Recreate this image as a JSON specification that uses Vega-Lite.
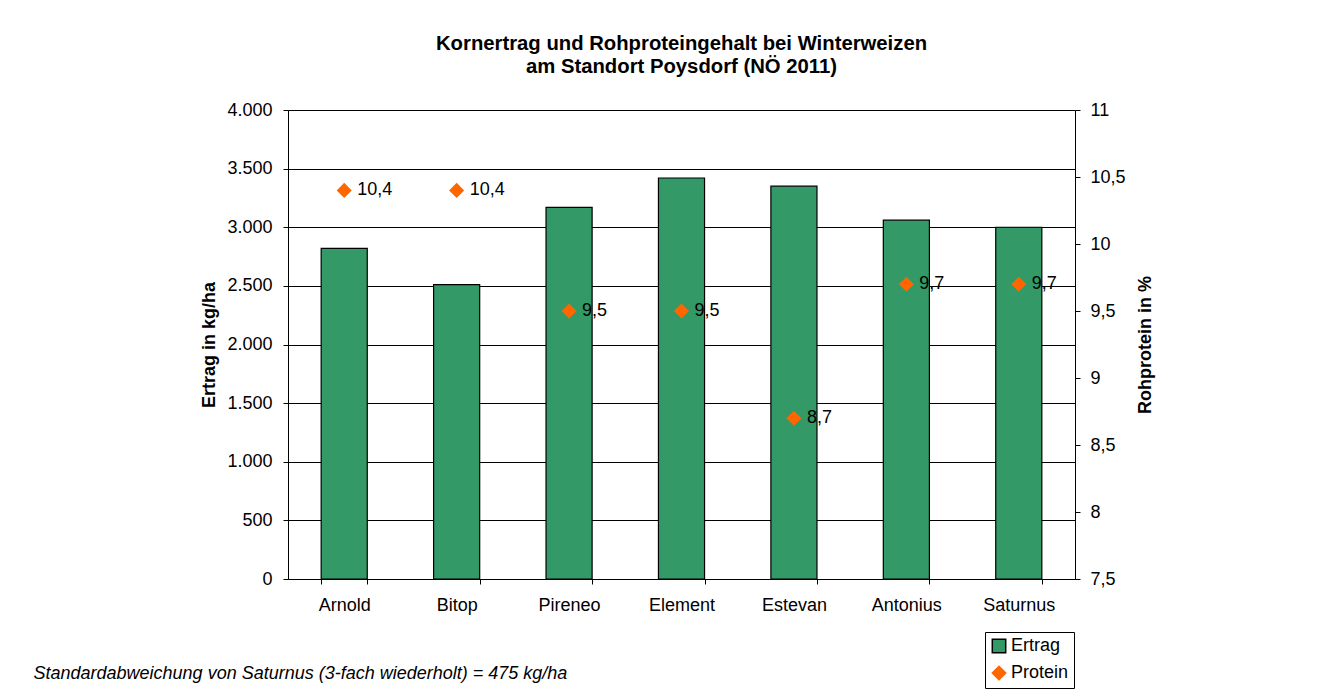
{
  "$schema": "https://vega.github.io/schema/vega-lite/v6.json",
  "width": 787,
  "height": 469,
  "autosize": {"type": "none"},
  "padding": {"left": 288, "top": 110, "right": 252, "bottom": 119},
  "background": "white",
  "config": {
    "locale": {"number": {"decimal": ",", "thousands": ".", "grouping": [3], "currency": ["", " €"]}},
    "font": "Liberation Sans",
    "view": {"stroke": null},
    "axis": {"labelFont": "Liberation Sans", "titleFont": "Liberation Sans", "labelFontSize": 18, "titleFontSize": 18, "labelColor": "#000000", "titleColor": "#000000", "domainColor": "#000000", "tickColor": "#000000", "tickSize": 5}
  },
  "title": {
    "text": ["Kornertrag und Rohproteingehalt bei Winterweizen", "am Standort Poysdorf (NÖ 2011)"],
    "fontSize": 20.3,
    "fontWeight": "bold",
    "font": "Liberation Sans",
    "color": "#000000",
    "lineHeight": 23,
    "anchor": "middle",
    "offset": 24
  },
  "data": {
    "values": [
      {"sorte": "Arnold", "serie": "Ertrag", "wert": 2820},
      {"sorte": "Bitop", "serie": "Ertrag", "wert": 2510},
      {"sorte": "Pireneo", "serie": "Ertrag", "wert": 3170},
      {"sorte": "Element", "serie": "Ertrag", "wert": 3420},
      {"sorte": "Estevan", "serie": "Ertrag", "wert": 3350},
      {"sorte": "Antonius", "serie": "Ertrag", "wert": 3060},
      {"sorte": "Saturnus", "serie": "Ertrag", "wert": 3000},
      {"sorte": "Arnold", "serie": "Protein", "wert": 10.4},
      {"sorte": "Bitop", "serie": "Protein", "wert": 10.4},
      {"sorte": "Pireneo", "serie": "Protein", "wert": 9.5},
      {"sorte": "Element", "serie": "Protein", "wert": 9.5},
      {"sorte": "Estevan", "serie": "Protein", "wert": 8.7},
      {"sorte": "Antonius", "serie": "Protein", "wert": 9.7},
      {"sorte": "Saturnus", "serie": "Protein", "wert": 9.7}
    ]
  },
  "encoding": {
    "x": {
      "field": "sorte",
      "type": "nominal",
      "sort": null,
      "scale": {"paddingInner": 0.59, "paddingOuter": 0.295},
      "axis": {
        "labelAngle": 0,
        "labelPadding": 12,
        "tickBand": "extent",
        "title": "Standardabweichung von Saturnus (3-fach wiederholt) = 475 kg/ha",
        "titleFontStyle": "italic",
        "titleFontWeight": "normal",
        "titleAlign": "left",
        "titleBaseline": "middle",
        "titleAnchor": "start",
        "titleX": -255,
        "titleY": 94
      }
    }
  },
  "layer": [
    {
      "transform": [{"filter": "datum.serie === 'Ertrag'"}],
      "mark": {"type": "bar", "stroke": "#000000", "strokeWidth": 1.2},
      "encoding": {
        "y": {
          "field": "wert",
          "type": "quantitative",
          "scale": {"domain": [0, 4000], "nice": false},
          "axis": {
            "orient": "left",
            "values": [0, 500, 1000, 1500, 2000, 2500, 3000, 3500, 4000],
            "format": ",d",
            "grid": true,
            "gridColor": "#000000",
            "gridOpacity": 1,
            "labelPadding": 11,
            "title": "Ertrag in kg/ha",
            "titleFontWeight": "bold",
            "titlePadding": 8
          }
        },
        "color": {
          "field": "serie",
          "type": "nominal",
          "scale": {"domain": ["Ertrag", "Protein"], "range": ["#339966", "#FF6600"]},
          "legend": {
            "title": null,
            "orient": "none",
            "legendX": 697,
            "legendY": 522,
            "strokeColor": "#000000",
            "fillColor": "#FFFFFF",
            "padding": 5,
            "labelFontSize": 18,
            "labelFont": "Liberation Sans",
            "labelColor": "#000000",
            "symbolSize": 180,
            "rowPadding": 7,
            "labelOffset": 3
          }
        }
      }
    },
    {
      "transform": [{"filter": "datum.serie === 'Protein'"}],
      "encoding": {
        "y": {
          "field": "wert",
          "type": "quantitative",
          "scale": {"domain": [7.5, 11], "nice": false, "zero": false},
          "axis": {
            "orient": "right",
            "values": [7.5, 8, 8.5, 9, 9.5, 10, 10.5, 11],
            "format": "~f",
            "grid": false,
            "labelPadding": 10,
            "title": "Rohprotein in %",
            "titleFontWeight": "bold",
            "titleAngle": -90,
            "titlePadding": 29
          }
        }
      },
      "layer": [
        {
          "mark": {"type": "point", "filled": true, "size": 150, "opacity": 1},
          "encoding": {
            "color": {"field": "serie", "type": "nominal"},
            "shape": {"field": "serie", "type": "nominal", "scale": {"domain": ["Ertrag", "Protein"], "range": ["square", "diamond"]}},
            "stroke": {"field": "serie", "type": "nominal", "scale": {"domain": ["Ertrag", "Protein"], "range": ["#000000", "#FF6600"]}}
          }
        },
        {
          "mark": {"type": "text", "align": "left", "baseline": "middle", "dx": 13, "fontSize": 18, "font": "Liberation Sans", "color": "#000000"},
          "encoding": {
            "text": {"field": "wert", "type": "quantitative", "format": ".1f"}
          }
        }
      ]
    }
  ],
  "resolve": {"scale": {"y": "independent"}}
}
